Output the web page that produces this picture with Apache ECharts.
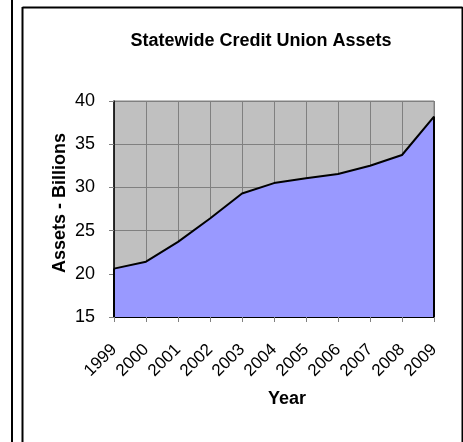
<!DOCTYPE html>
<html>
<head>
<meta charset="utf-8">
<script src="https://cdn.jsdelivr.net/npm/echarts@6/dist/echarts.min.js"></script>
<style>
html,body{margin:0;padding:0;background:#fff;}
#chart{width:463px;height:442px;}
</style>
</head>
<body>
<div id="chart"></div>
<script>
var years = ['1999','2000','2001','2002','2003','2004','2005','2006','2007','2008','2009'];
var assets = [20.6, 21.4, 23.7, 26.4, 29.3, 30.5, 31.05, 31.55, 32.5, 33.75, 38.2];
var yTicks = {min: 15, max: 40, interval: 5};
var titleText = 'Statewide Credit Union Assets';
var xName = 'Year';
var yName = 'Assets - Billions';

var FONT = 'Liberation Sans, Arial, sans-serif';
var chart = echarts.init(document.getElementById('chart'), null, {renderer: 'canvas'});
var last = years.length - 1;
chart.setOption({
  backgroundColor: '#ffffff',
  animation: false,
  title: {
    text: titleText,
    left: 256, top: 27, textAlign: 'center',
    textStyle: {fontFamily: FONT, fontSize: 18, fontWeight: 'bold', color: '#000'}
  },
  grid: {
    left: 114, right: 29, top: 101, bottom: 125,
    show: true, backgroundColor: '#c0c0c0', borderColor: '#808080', borderWidth: 1
  },
  xAxis: [{
    type: 'category', data: years, boundaryGap: false,
    axisLine: {lineStyle: {color: '#000', width: 2}},
    axisTick: {show: true, length: 5, lineStyle: {color: '#808080'}},
    axisLabel: {show: true, rotate: 45, margin: 30, interval: 0, hideOverlap: false,
      fontFamily: FONT, fontSize: 17, color: '#000'},
    splitLine: {show: true, lineStyle: {color: '#808080', width: 1}}
  }],
  yAxis: {
    type: 'value', min: yTicks.min, max: yTicks.max, interval: yTicks.interval,
    axisLine: {show: true, lineStyle: {color: '#000', width: 1.5}},
    axisTick: {show: true, length: 5, lineStyle: {color: '#808080'}},
    axisLabel: {margin: 19, fontFamily: FONT, fontSize: 18, color: '#000'},
    splitLine: {show: true, lineStyle: {color: '#808080', width: 1}}
  },
  graphic: [
    {type: 'line', shape: {x1: 12, y1: 0, x2: 12, y2: 442}, style: {stroke: '#000', lineWidth: 2}},
    {type: 'line', shape: {x1: 22.5, y1: 7, x2: 22.5, y2: 442}, style: {stroke: '#000', lineWidth: 2}},
    {type: 'line', shape: {x1: 22.5, y1: 7.5, x2: 462.5, y2: 7.5}, style: {stroke: '#000', lineWidth: 2}},
    {type: 'line', shape: {x1: 462.5, y1: 7, x2: 462.5, y2: 442}, style: {stroke: '#000', lineWidth: 2}},
    {type: 'text', position: [287, 399], style: {text: xName, fontFamily: FONT, fontSize: 18, fontWeight: 'bold', fill: '#000', textAlign: 'center', textVerticalAlign: 'middle'}},
    {type: 'text', position: [60, 203], rotation: Math.PI / 2, style: {text: yName, fontFamily: FONT, fontSize: 18, fontWeight: 'bold', fill: '#000', textAlign: 'center', textVerticalAlign: 'middle'}}
  ],
  series: [{
    type: 'line', data: assets, symbol: 'none',
    lineStyle: {color: '#000', width: 2},
    areaStyle: {color: '#9999ff', opacity: 1, origin: 'start'},
    markLine: {
      silent: true, symbol: 'none', label: {show: false},
      lineStyle: {color: '#000', width: 2, type: 'solid'},
      data: [
        [{coord: [years[0], yTicks.min]}, {coord: [years[0], assets[0]]}],
        [{coord: [years[last], yTicks.min]}, {coord: [years[last], assets[last]]}]
      ]
    }
  }]
});
</script>
</body>
</html>
